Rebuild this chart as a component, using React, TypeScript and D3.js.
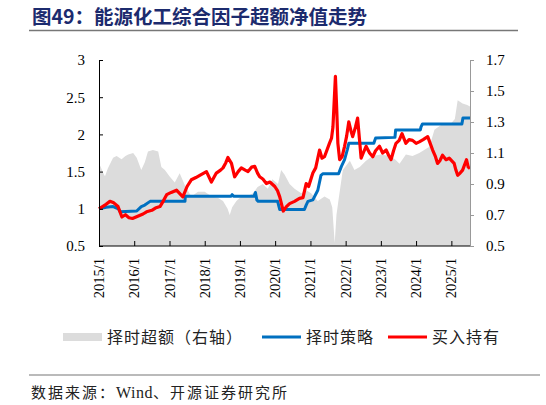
import { useRef, useEffect } from 'react';
import * as d3 from 'd3';

// decimal-year time stamps and values
const holdT = [2015.0, 2015.1, 2015.2, 2015.31, 2015.42, 2015.54, 2015.65, 2015.75, 2015.85, 2015.95, 2016.1, 2016.25, 2016.35, 2016.5, 2016.6, 2016.73, 2016.82, 2016.92, 2017.05, 2017.2, 2017.3, 2017.38, 2017.5, 2017.62, 2017.75, 2017.86, 2018.05, 2018.19, 2018.33, 2018.45, 2018.52, 2018.6, 2018.66, 2018.76, 2018.85, 2018.95, 2019.04, 2019.15, 2019.23, 2019.33, 2019.42, 2019.5, 2019.56, 2019.65, 2019.75, 2019.85, 2019.99, 2020.07, 2020.13, 2020.23, 2020.32, 2020.41, 2020.55, 2020.69, 2020.79, 2020.88, 2020.95, 2021.07, 2021.15, 2021.26, 2021.33, 2021.4, 2021.54, 2021.6, 2021.64, 2021.71, 2021.75, 2021.78, 2021.83, 2021.9, 2021.97, 2022.03, 2022.09, 2022.15, 2022.2, 2022.28, 2022.34, 2022.39, 2022.44, 2022.5, 2022.58, 2022.68, 2022.77, 2022.85, 2022.96, 2023.05, 2023.15, 2023.22, 2023.29, 2023.36, 2023.43, 2023.52, 2023.6, 2023.71, 2023.8, 2023.9, 2024.0, 2024.09, 2024.2, 2024.33, 2024.4, 2024.47, 2024.55, 2024.61, 2024.68, 2024.75, 2024.85, 2024.94, 2025.02, 2025.08, 2025.13, 2025.18, 2025.25, 2025.32, 2025.43, 2025.48, 2025.53];
const holdV = [1.0, 1.03, 1.06, 1.1, 1.08, 1.03, 0.89, 0.92, 0.88, 0.87, 0.9, 0.93, 0.96, 0.98, 1.01, 1.03, 1.1, 1.19, 1.22, 1.25, 1.2, 1.16, 1.3, 1.39, 1.42, 1.45, 1.5, 1.36, 1.48, 1.52, 1.55, 1.62, 1.69, 1.61, 1.43, 1.5, 1.55, 1.52, 1.5, 1.56, 1.57, 1.48, 1.43, 1.4, 1.34, 1.36, 1.3, 1.24, 1.16, 0.97, 1.03, 1.07, 1.1, 1.14, 1.15, 1.34, 1.3, 1.48, 1.55, 1.79, 1.68, 1.7, 1.88, 1.95, 2.1, 2.78, 2.3, 1.88, 1.66, 1.7, 1.84, 1.98, 2.17, 2.05, 1.97, 2.1, 2.22, 1.95, 1.68, 1.75, 1.84, 1.75, 1.7, 1.78, 1.84, 1.75, 1.79, 1.72, 1.66, 1.78, 1.88, 1.92, 2.01, 1.88, 1.93, 1.92, 1.88, 1.9, 1.93, 1.97, 1.88, 1.79, 1.7, 1.61, 1.65, 1.72, 1.66, 1.68, 1.64, 1.61, 1.52, 1.45, 1.48, 1.52, 1.66, 1.56, 1.54];

const timingT = [2015.0, 2015.2, 2015.4, 2015.55, 2015.6, 2016.07, 2016.2, 2016.3, 2016.45, 2017.44, 2017.45, 2018.75, 2018.78, 2018.82, 2019.4, 2019.44, 2019.48, 2019.52, 2020.07, 2020.13, 2020.83, 2020.88, 2020.93, 2021.07, 2021.21, 2021.3, 2021.35, 2021.8, 2021.88, 2021.97, 2022.05, 2022.09, 2022.8, 2022.85, 2023.4, 2023.42, 2024.12, 2024.14, 2024.18, 2025.3, 2025.33, 2025.53];
const timingV = [1.0, 1.02, 1.03, 1.0, 0.96, 0.97, 1.03, 1.05, 1.1, 1.1, 1.17, 1.17, 1.19, 1.17, 1.17, 1.22, 1.12, 1.1, 1.1, 0.99, 0.99, 1.05, 1.1, 1.12, 1.25, 1.45, 1.47, 1.47, 1.57, 1.66, 1.8, 1.88, 1.88, 1.95, 1.96, 2.06, 2.06, 2.1, 2.14, 2.14, 2.22, 2.22];

const excessT = [2015.0, 2015.05, 2015.12, 2015.17, 2015.25, 2015.4, 2015.5, 2015.64, 2015.75, 2015.83, 2015.97, 2016.07, 2016.2, 2016.3, 2016.39, 2016.53, 2016.68, 2016.77, 2016.87, 2017.0, 2017.15, 2017.29, 2017.44, 2017.62, 2017.81, 2018.0, 2018.2, 2018.38, 2018.52, 2018.65, 2018.71, 2018.78, 2018.9, 2019.04, 2019.2, 2019.37, 2019.5, 2019.65, 2019.79, 2019.92, 2020.08, 2020.17, 2020.27, 2020.41, 2020.55, 2020.74, 2020.88, 2021.02, 2021.21, 2021.4, 2021.55, 2021.62, 2021.69, 2021.74, 2021.8, 2021.92, 2022.12, 2022.25, 2022.4, 2022.58, 2022.77, 2023.0, 2023.25, 2023.4, 2023.53, 2023.71, 2023.9, 2024.09, 2024.38, 2024.52, 2024.71, 2024.99, 2025.1, 2025.18, 2025.32, 2025.45, 2025.53];
const excessV = [1.03, 1.01, 0.97, 0.95, 1.0, 1.07, 1.08, 1.06, 1.08, 1.09, 1.1, 1.07, 0.99, 1.04, 1.11, 1.12, 1.11, 1.01, 0.99, 0.95, 0.91, 0.97, 0.89, 0.82, 0.85, 0.85, 0.82, 0.81, 0.79, 0.74, 0.7, 0.75, 0.79, 0.82, 0.82, 0.84, 0.88, 0.9, 0.87, 0.93, 0.9, 0.99, 0.96, 0.9, 0.87, 0.84, 0.86, 0.84, 0.79, 0.82, 0.8, 0.75, 0.52, 0.7, 0.8, 0.99, 1.05, 0.99, 1.01, 1.05, 1.08, 1.09, 1.08, 1.06, 1.03, 1.09, 1.08, 1.1, 1.14, 1.25, 1.28, 1.29, 1.32, 1.44, 1.42, 1.41, 1.4];

const leftTicks = [0.5, 1, 1.5, 2, 2.5, 3];
const rightTicks = [0.5, 0.7, 0.9, 1.1, 1.3, 1.5, 1.7];
const yearTicks = [2015, 2016, 2017, 2018, 2019, 2020, 2021, 2022, 2023, 2024, 2025];

const title = '图49：能源化工综合因子超额净值走势';
const legendNames = ['择时超额（右轴）', '择时策略', '买入持有'];
const sourceParts = ['数据来源：', 'Wind', '、开源证券研究所'];

const toDate = (t: number) => new Date(2015, 0, 1).getTime() + (t - 2015) * 365.25 * 864e5;

export default function App() {
  const svgRef = useRef<SVGSVGElement>(null);

  useEffect(() => {
    if (!svgRef.current) return;
    const svg = d3.select(svgRef.current);
    svg.selectAll('*').remove();

    const serif = '"Liberation Serif", "Times New Roman", serif';
    const cjk = '"Noto Sans CJK SC", sans-serif';
    const plot = { left: 99, right: 470, top: 60, bottom: 246 };

    const x = d3.scaleTime()
      .domain([new Date(toDate(2015)), new Date(toDate(2025.53))])
      .range([plot.left, plot.right]);
    const yL = d3.scaleLinear().domain([0.5, 3]).range([plot.bottom, plot.top]);
    const yR = d3.scaleLinear().domain([0.5, 1.7]).range([plot.bottom, plot.top]);

    // Title
    svg.append('text')
      .attr('x', 32).attr('y', 24)
      .attr('font-family', cjk).attr('font-weight', 'bold').attr('font-size', '19.5px')
      .attr('fill', '#1c2b6e')
      .text(title);
    svg.append('line')
      .attr('x1', 29).attr('x2', 518).attr('y1', 30.5).attr('y2', 30.5)
      .attr('stroke', '#777').attr('stroke-width', 1.5);

    // Excess area (right axis)
    const area = d3.area<number>()
      .x((_, i) => x(new Date(toDate(excessT[i]))))
      .y0(plot.bottom)
      .y1((d) => yR(d));
    svg.append('path').datum(excessV).attr('d', area).attr('fill', '#dcdcdc');

    const line = (ts: number[], scale: d3.ScaleLinear<number, number>) =>
      d3.line<number>().x((_, i) => x(new Date(toDate(ts[i])))).y((d) => scale(d));

    svg.append('path').datum(timingV).attr('d', line(timingT, yL))
      .attr('fill', 'none').attr('stroke', '#0070c0').attr('stroke-width', 3).attr('stroke-linejoin', 'round');
    svg.append('path').datum(holdV).attr('d', line(holdT, yL))
      .attr('fill', 'none').attr('stroke', '#ff0000').attr('stroke-width', 3.2).attr('stroke-linejoin', 'round');

    // Left axis
    const gl = svg.append('g').attr('transform', 'translate(' + plot.left + ',0)')
      .call(d3.axisLeft(yL).tickValues(leftTicks).tickSize(-4).tickPadding(14).tickFormat((d) => String(d)));
    gl.select('.domain').attr('stroke', '#000');
    gl.selectAll('text').attr('font-family', serif).attr('font-size', '15px').attr('fill', '#000');

    // Right axis
    const gr = svg.append('g').attr('transform', 'translate(' + plot.right + ',0)')
      .call(d3.axisRight(yR).tickValues(rightTicks).tickSize(4).tickPadding(12).tickFormat((d) => (d as number).toFixed(1)));
    gr.select('.domain').attr('stroke', '#999');
    gr.selectAll('line').attr('stroke', '#999');
    gr.selectAll('text').attr('font-family', serif).attr('font-size', '15px').attr('fill', '#000');

    // Bottom axis
    const gb = svg.append('g').attr('transform', 'translate(0,' + plot.bottom + ')')
      .call(d3.axisBottom(x).tickValues(yearTicks.map((t) => new Date(t, 0, 1))).tickSize(-5).tickFormat(() => ''));
    gb.select('.domain').attr('stroke', '#000').attr('d', 'M' + plot.left + ',0H' + plot.right);
    svg.selectAll('text.year')
      .data(yearTicks)
      .join('text')
      .attr('class', 'year')
      .attr('transform', (d) => 'translate(' + (x(new Date(d, 0, 1)) + 5) + ',258) rotate(-90)')
      .attr('text-anchor', 'end')
      .attr('font-family', serif).attr('font-size', '14.5px').attr('fill', '#000')
      .text((d) => d + '/1');

    // Legend
    const ly = 337;
    svg.append('rect').attr('x', 63).attr('y', ly - 4).attr('width', 39).attr('height', 8).attr('fill', '#dcdcdc');
    svg.append('line').attr('x1', 262).attr('x2', 301).attr('y1', ly).attr('y2', ly).attr('stroke', '#0070c0').attr('stroke-width', 3);
    svg.append('line').attr('x1', 388).attr('x2', 427).attr('y1', ly).attr('y2', ly).attr('stroke', '#ff0000').attr('stroke-width', 3);
    const lx = [107, 306, 432];
    legendNames.forEach((n, i) => {
      svg.append('text').attr('x', lx[i]).attr('y', ly + 6)
        .attr('font-family', cjk).attr('font-size', '16px').attr('fill', '#222')
        .attr('letter-spacing', '1px')
        .text(n);
    });

    // Source
    svg.append('line').attr('x1', 29).attr('x2', 540).attr('y1', 375).attr('y2', 375).attr('stroke', '#777').attr('stroke-width', 1.2);
    const src = svg.append('text').attr('x', 31).attr('y', 398)
      .attr('font-family', cjk).attr('font-size', '15px').attr('fill', '#222').attr('letter-spacing', '2px');
    src.append('tspan').text(sourceParts[0]);
    src.append('tspan').attr('font-family', serif).attr('font-size', '16px').attr('letter-spacing', '0.5px').text(sourceParts[1]);
    src.append('tspan').text(sourceParts[2]);
  }, []);

  return (
    <svg ref={svgRef} width={546} height={405} viewBox="0 0 546 405"
      style={{ position: 'absolute', left: 0, top: 0, background: '#fff' }} />
  );
}
